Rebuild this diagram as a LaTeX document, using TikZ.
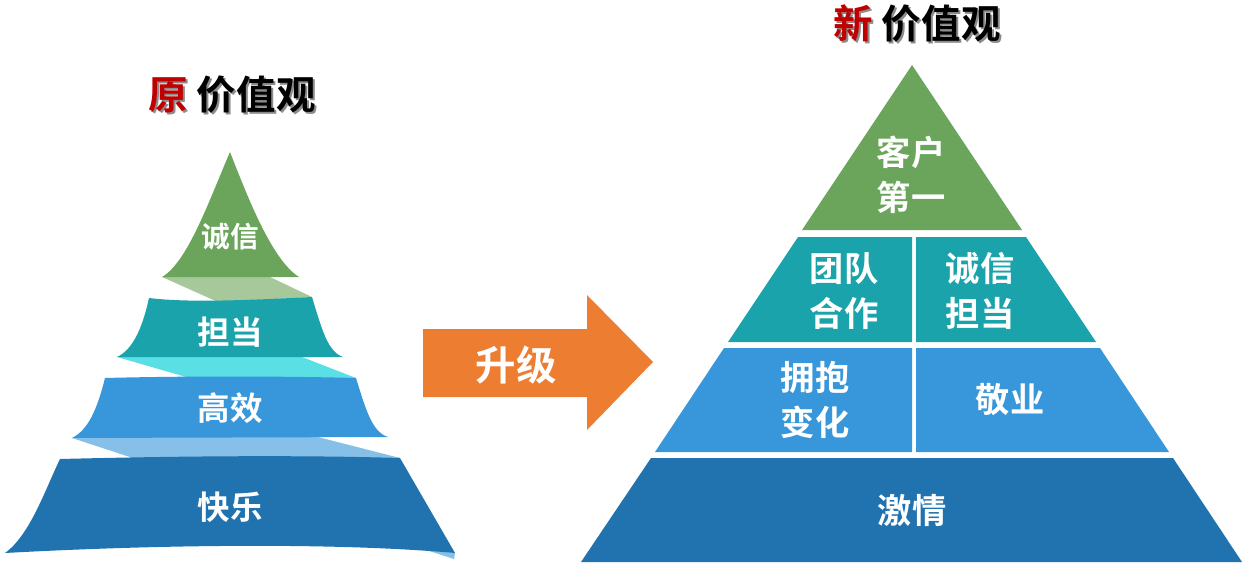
\documentclass[tikz,border=0pt]{standalone}
\usepackage{fontspec}
\setmainfont{Noto Sans CJK SC}[BoldFont={Noto Sans CJK SC Bold}]

\definecolor{grn}{RGB}{106,165,91}
\definecolor{tl}{RGB}{27,163,171}
\definecolor{bl}{RGB}{55,151,218}
\definecolor{dbl}{RGB}{32,115,174}
\definecolor{lgrn}{RGB}{166,200,154}
\definecolor{cyn}{RGB}{90,223,228}
\definecolor{lbl}{RGB}{134,191,232}
\definecolor{orng}{RGB}{237,125,49}
\definecolor{ttlred}{RGB}{192,0,0}

\tikzstyle{band} = [text=white, font=\bfseries\fontsize{18.5}{22}\selectfont, inner sep=0pt]
\tikzstyle{cell} = [text=white, font=\bfseries\fontsize{19.5}{25.6}\selectfont, align=center, inner sep=0pt]
\tikzstyle{ttl} = [font=\bfseries\fontsize{22.5}{27}\selectfont, inner sep=0pt]
\tikzstyle{ttlshadow} = [ttl, text=black!45]

\begin{document}
\begin{tikzpicture}[x=0.02cm,y=-0.02cm]
\useasboundingbox (0,0) rectangle (1247,571);

% old pyramid, folds first
\fill[lgrn] (162,277) -- (270,277) -- (312,297) -- (218,302) -- cycle;
\fill[cyn] (117,357) -- (302,357) -- (356,378) -- (193,379) -- cycle;
\fill[lbl] (72,438) -- (310,435) -- (400,458) -- (142,461) -- cycle;
\fill[lbl] (420,548) -- (455,553) -- (454,559) -- cycle;

\fill[grn] (230,152) .. controls (248,198) and (272,260) .. (299,277) -- (162,277)
  .. controls (188,262) and (210,198) .. (230,152) -- cycle;
\fill[tl] (149,298) .. controls (190,303) and (250,300) .. (312,297)
  .. controls (322,330) and (328,352) .. (343,357) -- (117,357)
  .. controls (132,350) and (142,330) .. (149,298) -- cycle;
\fill[bl] (105,378) .. controls (180,376) and (280,376) .. (356,378)
  .. controls (366,410) and (372,432) .. (388,437) -- (72,438)
  .. controls (88,430) and (97,410) .. (105,378) -- cycle;
\fill[dbl] (60,459) .. controls (180,456) and (300,455) .. (400,458) -- (455,553)
  .. controls (330,542) and (150,545) .. (5,553)
  .. controls (30,535) and (45,490) .. (60,459) -- cycle;

\node[band, font=\bfseries\fontsize{16.3}{20}\selectfont] (Chengxin) at (230,237) {诚信};
\node[band] (Dandang) at (230,332) {担当};
\node[band] (Gaoxiao) at (230,408) {高效};
\node[band] (Kuaile) at (230,507) {快乐};

\node[ttlshadow] at (234,97) {原 价值观};
\node[ttl] (OldTitle) at (232,95) {{\color{ttlred}原} 价值观};

% upgrade arrow
\fill[orng] (423,329) -- (587,329) -- (587,295) -- (653,362) -- (587,430) -- (587,397)
  -- (423,397) -- cycle;
\node[band, font=\bfseries\fontsize{23}{27}\selectfont] (Shengji) at (516,365) {升级};

% new pyramid
\fill[grn] (912,65) -- (1022,230) -- (802,230) -- cycle;
\fill[tl] (798,237) -- (912,237) -- (912,342) -- (728,342) -- cycle;
\fill[tl] (916,237) -- (1026,237) -- (1096,342) -- (916,342) -- cycle;
\fill[bl] (724,348) -- (912,348) -- (912,452) -- (655,452) -- cycle;
\fill[bl] (916,348) -- (1100,348) -- (1169,452) -- (916,452) -- cycle;
\fill[dbl] (651,458) -- (1173,458) -- (1242,562) -- (581,562) -- cycle;

\node[cell] (Kehu) at (911,175) {客户\\第一};
\node[cell] (Tuandui) at (844,291) {团队\\合作};
\node[cell] (ChengxinDandang) at (980,291) {诚信\\担当};
\node[cell] (Yongbao) at (815,400) {拥抱\\变化};
\node[cell] (Jingye) at (1010,400) {敬业};
\node[cell] (Jiqing) at (912,510) {激情};

\node[ttlshadow] at (919,26) {新 价值观};
\node[ttl] (NewTitle) at (917,24) {{\color{ttlred}新} 价值观};

\end{tikzpicture}
\end{document}
